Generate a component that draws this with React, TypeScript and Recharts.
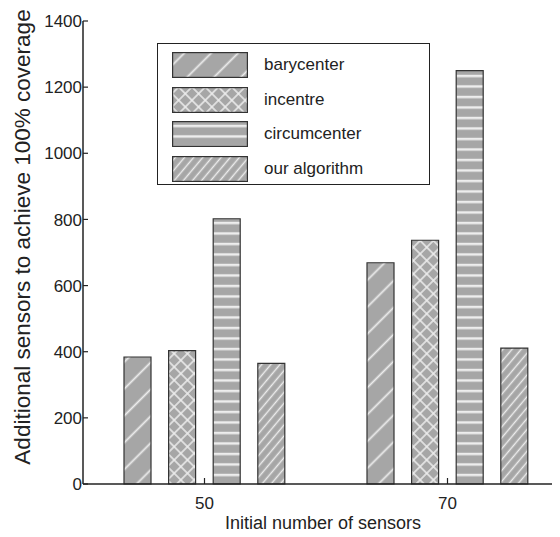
import React from "react";
import { BarChart, Bar, XAxis, YAxis, Legend } from "recharts";

const categories = ["50", "70"];
const barycenter = [384, 669];
const incentre = [403, 737];
const circumcenter = [802, 1250];
const ourAlgorithm = [365, 411];
const yTicks = [0, 200, 400, 600, 800, 1000, 1200, 1400];

const series = [
  { key: "barycenter", name: "barycenter", fill: "url(#pBary)" },
  { key: "incentre", name: "incentre", fill: "url(#pInc)" },
  { key: "circumcenter", name: "circumcenter", fill: "url(#pCirc)" },
  { key: "ours", name: "our algorithm", fill: "url(#pOurs)" },
];

const data = categories.map((c, i) => ({
  n: c,
  barycenter: barycenter[i],
  incentre: incentre[i],
  circumcenter: circumcenter[i],
  ours: ourAlgorithm[i],
}));

const FONT = "'Liberation Sans', Arial, sans-serif";
const GRAY = "#a6a6a6";
const LIGHT = "#ededed";

const YTick = (props: any) => {
  const { x, y, payload } = props;
  return (
    <g>
      <line x1={x} y1={y} x2={x + 5} y2={y} stroke="#222" strokeWidth={1.2} />
      <text x={x - 1} y={y} dy="0.36em" textAnchor="end" fontSize={17} fill="#222" fontFamily={FONT}>
        {payload.value}
      </text>
    </g>
  );
};

const XTick = (props: any) => {
  const { x, y, payload } = props;
  return (
    <g>
      <line x1={x} y1={y} x2={x} y2={y - 6} stroke="#222" strokeWidth={1.2} />
      <text x={x} y={y + 25} textAnchor="middle" fontSize={17} fill="#222" fontFamily={FONT}>
        {payload.value}
      </text>
    </g>
  );
};

const LegendBox = () => (
  <div
    style={{
      width: 273,
      height: 142,
      border: "1.5px solid #222",
      background: "#fff",
      fontFamily: FONT,
      fontSize: 17,
      color: "#222",
      boxSizing: "border-box",
      position: "relative",
    }}
  >
    {series.map((s, i) => (
      <div key={s.key} style={{ position: "absolute", left: 14, top: 8 + i * 34.5, height: 26, display: "flex", alignItems: "center" }}>
        <svg width={76} height={26} style={{ display: "block" }}>
          <rect x={0.6} y={0.6} width={74.8} height={24.8} fill={s.fill} stroke="#333" strokeWidth={1.2} />
        </svg>
        <span style={{ marginLeft: 16 }}>{s.name}</span>
      </div>
    ))}
  </div>
);

export default function App() {
  return (
    <div style={{ width: 552, height: 529, overflow: "hidden", position: "relative" }}>
      <BarChart
        width={600}
        height={525}
        data={data}
        margin={{ top: 13, right: 39, bottom: 0, left: 0 }}
        barSize={27}
        barGap={17.6}
      >
        <defs>
          <pattern id="pBary" patternUnits="userSpaceOnUse" width={19} height={19} patternTransform="rotate(45)">
            <rect width={19} height={19} fill={GRAY} />
            <line x1={9.5} y1={0} x2={9.5} y2={19} stroke={LIGHT} strokeWidth={1.8} />
          </pattern>
          <pattern id="pInc" patternUnits="userSpaceOnUse" width={9.4} height={9.4} patternTransform="rotate(45)">
            <rect width={9.4} height={9.4} fill={GRAY} />
            <line x1={4.7} y1={0} x2={4.7} y2={9.4} stroke={LIGHT} strokeWidth={1.5} />
            <line x1={0} y1={4.7} x2={9.4} y2={4.7} stroke={LIGHT} strokeWidth={1.5} />
          </pattern>
          <pattern id="pCirc" patternUnits="userSpaceOnUse" width={10} height={10.5}>
            <rect width={10} height={10.5} fill={GRAY} />
            <line x1={0} y1={5} x2={10} y2={5} stroke={LIGHT} strokeWidth={2.5} />
          </pattern>
          <pattern id="pOurs" patternUnits="userSpaceOnUse" width={7} height={7} patternTransform="rotate(40)">
            <rect width={7} height={7} fill={GRAY} />
            <line x1={3.5} y1={0} x2={3.5} y2={7} stroke={LIGHT} strokeWidth={1.5} />
          </pattern>
        </defs>
        <XAxis
          dataKey="n"
          height={49}
          tickSize={0}
          tickMargin={0}
          axisLine={{ stroke: "#222", strokeWidth: 1.5 }}
          tick={<XTick />}
          label={{
            content: () => (
              <text x={315} y={521} textAnchor="middle" fontSize={18} fill="#222" fontFamily={FONT}>
                Initial number of sensors
              </text>
            ),
          }}
        />
        <YAxis
          width={75}
          domain={[0, 1400]}
          ticks={yTicks}
          interval={0}
          tickSize={0}
          tickMargin={0}
          axisLine={{ stroke: "#222", strokeWidth: 1.5 }}
          tick={<YTick />}
          label={{
            content: () => (
              <text
                x={14}
                y={229}
                dy="0.36em"
                transform="rotate(-90 14 229)"
                textAnchor="middle"
                fontSize={22.5}
                fill="#222"
                fontFamily={FONT}
              >
                Additional sensors to achieve 100% coverage
              </text>
            ),
          }}
        />
        <Legend
          layout="vertical"
          align="center"
          verticalAlign="middle"
          content={() => <LegendBox />}
          wrapperStyle={{ position: "absolute", left: 149, top: 35, width: 273, height: 142 }}
        />
        {series.map((s) => (
          <Bar key={s.key} dataKey={s.key} name={s.name} fill={s.fill} stroke="#333" strokeWidth={1.2} isAnimationActive={false} />
        ))}
      </BarChart>
    </div>
  );
}
